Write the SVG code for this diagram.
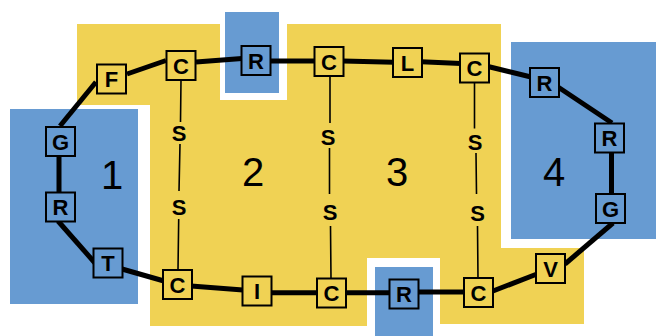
<svg xmlns="http://www.w3.org/2000/svg" width="656" height="336" viewBox="0 0 656 336">
  <style>
    .yellow { fill: #F0D254; }
    .blue { fill: #679BD2; }
    .bond { stroke: #000; stroke-width: 5; fill: none; stroke-linecap: butt; }
    .ss { stroke: #000; stroke-width: 1.6; fill: none; }
    .box { stroke: #000; stroke-width: 2; }
    .lbl { font-family: "Liberation Sans", Arial, sans-serif; font-weight: bold; font-size: 22px; text-anchor: middle; fill: #000; }
    .num { font-family: "Liberation Sans", Arial, sans-serif; font-size: 40px; text-anchor: middle; fill: #000; }
  </style>

  <!-- background regions -->
  <g id="regions">
    <polygon class="yellow" points="77,24 220,24 220,100 287,100 287,24 501,24 501,248 584,248 584,324 440,324 440,258 367,258 367,326 150,326 150,105 77,105"/>
    <rect class="blue" x="10" y="109" width="128" height="195"/>
    <rect class="blue" x="225" y="12" width="54" height="81"/>
    <rect class="blue" x="511" y="42" width="145" height="197"/>
    <rect class="blue" x="375" y="267" width="58" height="69"/>
    <text class="num" x="112" y="189">1</text>
    <text class="num" x="253" y="186">2</text>
    <text class="num" x="397" y="186">3</text>
    <text class="num" x="554" y="186">4</text>
  </g>

  <!-- connectors -->
  <g id="connectors">
    <path class="bond" d="M60,126 L96,82"/>
    <path class="bond" d="M127,74 L166,60.5"/>
    <path class="bond" d="M196,62 L242,58.5"/>
    <path class="bond" d="M270,61 L315,61"/>
    <path class="bond" d="M343,61 L394,62.3"/>
    <path class="bond" d="M421,61.8 L461,63.5"/>
    <path class="bond" d="M488,66.5 L531,77"/>
    <path class="bond" d="M558,87 L612,123"/>
    <path class="bond" d="M611.5,152 L611.5,195"/>
    <path class="bond" d="M613,223 L565,264"/>
    <path class="bond" d="M537,274 L493,291"/>
    <path class="bond" d="M465,292 L418,292"/>
    <path class="bond" d="M390,292.7 L345,292.7"/>
    <path class="bond" d="M318,292.7 L271,292.7"/>
    <path class="bond" d="M243,290 L191,286"/>
    <path class="bond" d="M164,281 L122,269"/>
    <path class="bond" d="M95,263 L58,221"/>
    <path class="bond" d="M59,155 L59,194"/>
    <!-- S–S links -->
    <path class="ss" d="M181,80 L180.5,122 M180,144 L179,191 M178.7,219 L178,270"/>
    <path class="ss" d="M330,76 L330,123 M329.5,148 L329.5,194 M330.5,226 L331,279"/>
    <path class="ss" d="M474.5,83 L474.5,128.5 M476,153 L476.5,194 M477.5,226 L478,278"/>
  </g>

  <!-- S labels -->
  <g id="s-labels">
    <text class="lbl" x="179" y="141">S</text>
    <text class="lbl" x="179" y="215">S</text>
    <text class="lbl" x="328" y="145">S</text>
    <text class="lbl" x="330" y="219.5">S</text>
    <text class="lbl" x="475" y="149.5">S</text>
    <text class="lbl" x="477.5" y="220.5">S</text>
  </g>

  <!-- residue nodes -->
  <g id="n-F"><rect class="box yellow" x="97" y="64.5" width="29" height="29"/><text class="lbl" x="111.5" y="87">F</text></g>
  <g id="n-C1"><rect class="box yellow" x="166.5" y="51" width="29" height="29"/><text class="lbl" x="181" y="73.5">C</text></g>
  <g id="n-Rtop"><rect class="box blue" x="241.5" y="46" width="29" height="29"/><text class="lbl" x="256" y="68.5">R</text></g>
  <g id="n-C2"><rect class="box yellow" x="314.5" y="47" width="29" height="29"/><text class="lbl" x="329" y="69.5">C</text></g>
  <g id="n-L"><rect class="box yellow" x="393" y="48" width="29" height="29"/><text class="lbl" x="407.5" y="70.5">L</text></g>
  <g id="n-C3"><rect class="box yellow" x="460" y="53.5" width="29" height="29"/><text class="lbl" x="474.5" y="76">C</text></g>
  <g id="n-R1"><rect class="box blue" x="530" y="68" width="29" height="29"/><text class="lbl" x="544.5" y="90.5">R</text></g>
  <g id="n-R2"><rect class="box blue" x="595" y="123.5" width="29" height="29"/><text class="lbl" x="609.5" y="146">R</text></g>
  <g id="n-G2"><rect class="box blue" x="596" y="194" width="29" height="29"/><text class="lbl" x="610.5" y="216.5">G</text></g>
  <g id="n-V"><rect class="box yellow" x="536" y="254" width="29" height="29"/><text class="lbl" x="550.5" y="276.5">V</text></g>
  <g id="n-C4"><rect class="box yellow" x="464" y="278" width="29" height="29"/><text class="lbl" x="478.5" y="300.5">C</text></g>
  <g id="n-Rbot"><rect class="box blue" x="389.5" y="279.5" width="29" height="29"/><text class="lbl" x="404" y="302">R</text></g>
  <g id="n-C5"><rect class="box yellow" x="317" y="278.5" width="29" height="29"/><text class="lbl" x="331.5" y="301">C</text></g>
  <g id="n-I"><rect class="box yellow" x="242.5" y="276.5" width="29" height="29"/><text class="lbl" x="257" y="299">I</text></g>
  <g id="n-C6"><rect class="box yellow" x="163" y="270" width="29" height="29"/><text class="lbl" x="177.5" y="292.5">C</text></g>
  <g id="n-T"><rect class="box blue" x="93.5" y="248.5" width="29" height="29"/><text class="lbl" x="108" y="271">T</text></g>
  <g id="n-R3"><rect class="box blue" x="46" y="192.5" width="29" height="29"/><text class="lbl" x="60.5" y="215">R</text></g>
  <g id="n-G1"><rect class="box blue" x="46" y="127" width="29" height="29"/><text class="lbl" x="60.5" y="149.5">G</text></g>
</svg>
